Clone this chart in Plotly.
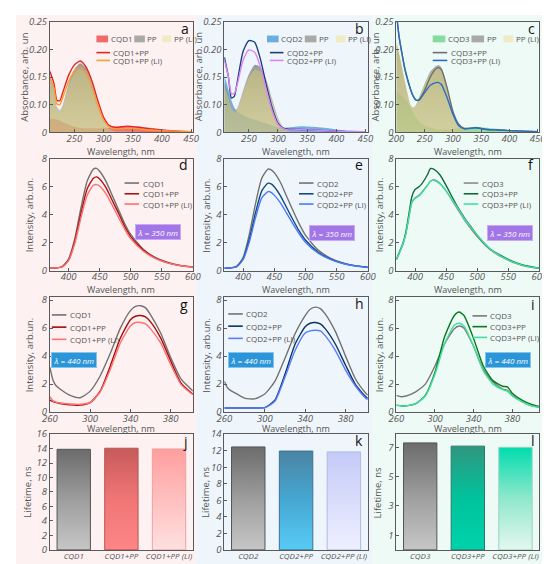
import plotly.graph_objects as go
from plotly.subplots import make_subplots

W, H = 550, 564
FONT = "Open Sans"
TXT = "#555555"

# ---------------- absorption, panels a-c ----------------
AB_WL = [208, 215, 220, 225, 230, 240, 250, 260, 270, 280, 290, 300, 310, 320, 340, 360, 380, 400, 425, 450]
a_cqd1 = [0.075, 0.074, 0.073, 0.071, 0.068, 0.064, 0.060, 0.058, 0.057, 0.057, 0.057, 0.058, 0.058, 0.059, 0.061, 0.060, 0.058, 0.055, 0.053, 0.052]
a_pp = [0.154, 0.128, 0.096, 0.090, 0.100, 0.138, 0.164, 0.175, 0.166, 0.140, 0.104, 0.073, 0.057, 0.052, 0.052, 0.051, 0.050, 0.050, 0.050, 0.050]
a_pp_li = [0.145, 0.122, 0.090, 0.086, 0.095, 0.132, 0.157, 0.165, 0.155, 0.128, 0.094, 0.067, 0.054, 0.051, 0.050, 0.050, 0.050, 0.050, 0.050, 0.050]
a_cqd1_pp = [0.160, 0.138, 0.108, 0.107, 0.122, 0.153, 0.172, 0.179, 0.168, 0.143, 0.108, 0.077, 0.062, 0.059, 0.061, 0.059, 0.056, 0.054, 0.052, 0.051]
a_cqd1_pp_li = [0.150, 0.130, 0.101, 0.100, 0.113, 0.142, 0.161, 0.168, 0.157, 0.132, 0.098, 0.072, 0.059, 0.056, 0.057, 0.056, 0.054, 0.053, 0.052, 0.051]

b_cqd2 = [0.154, 0.127, 0.108, 0.095, 0.088, 0.081, 0.076, 0.073, 0.069, 0.066, 0.062, 0.059, 0.058, 0.059, 0.061, 0.060, 0.058, 0.055, 0.053, 0.052]
b_pp = [0.140, 0.118, 0.098, 0.090, 0.094, 0.125, 0.155, 0.172, 0.168, 0.145, 0.110, 0.077, 0.058, 0.052, 0.051, 0.050, 0.050, 0.050, 0.050, 0.050]
b_pp_li = [0.135, 0.112, 0.094, 0.087, 0.090, 0.120, 0.148, 0.163, 0.160, 0.138, 0.103, 0.072, 0.056, 0.051, 0.050, 0.050, 0.050, 0.050, 0.050, 0.050]
b_cqd2_pp = [0.186, 0.150, 0.112, 0.115, 0.140, 0.196, 0.216, 0.213, 0.182, 0.135, 0.094, 0.066, 0.057, 0.055, 0.055, 0.054, 0.053, 0.052, 0.051, 0.051]
b_cqd2_pp_li = [0.180, 0.150, 0.120, 0.120, 0.136, 0.180, 0.199, 0.195, 0.168, 0.127, 0.089, 0.064, 0.056, 0.054, 0.055, 0.054, 0.053, 0.052, 0.051, 0.051]

C_WL = [200, 205, 210, 215, 220, 225, 230, 235, 240, 250, 260, 270, 275, 280, 290, 300, 310, 320, 340, 360, 380, 400, 425, 450]
c_cqd3 = [0.125, 0.120, 0.115, 0.110, 0.104, 0.095, 0.085, 0.077, 0.070, 0.062, 0.058, 0.056, 0.055, 0.055, 0.055, 0.056, 0.057, 0.058, 0.060, 0.058, 0.056, 0.054, 0.052, 0.051]
c_pp = [0.210, 0.190, 0.165, 0.140, 0.118, 0.100, 0.095, 0.100, 0.113, 0.138, 0.160, 0.170, 0.172, 0.167, 0.133, 0.088, 0.063, 0.054, 0.052, 0.050, 0.050, 0.050, 0.050, 0.050]
c_pp_li = [0.220, 0.195, 0.170, 0.145, 0.120, 0.098, 0.094, 0.100, 0.112, 0.135, 0.155, 0.164, 0.165, 0.160, 0.128, 0.085, 0.062, 0.053, 0.051, 0.050, 0.050, 0.050, 0.050, 0.050]
c_cqd3_pp = [0.265, 0.222, 0.192, 0.165, 0.145, 0.128, 0.115, 0.108, 0.109, 0.126, 0.150, 0.165, 0.167, 0.163, 0.130, 0.088, 0.065, 0.057, 0.058, 0.055, 0.054, 0.053, 0.052, 0.051]
c_cqd3_pp_li = [0.265, 0.222, 0.192, 0.165, 0.145, 0.128, 0.115, 0.108, 0.108, 0.122, 0.135, 0.140, 0.140, 0.136, 0.112, 0.083, 0.062, 0.056, 0.058, 0.055, 0.054, 0.053, 0.052, 0.051]

# ---------------- PL, excitation 350 nm (d-f) ----------------
PL_WL = [370, 380, 390, 400, 410, 420, 430, 440, 445, 450, 460, 470, 480, 490, 500, 520, 540, 560, 580, 600]
d_cqd1 = [0.2, 0.22, 0.32, 0.85, 2.3, 4.5, 6.4, 7.25, 7.3, 7.1, 6.4, 5.4, 4.4, 3.4, 2.6, 1.55, 0.95, 0.6, 0.4, 0.28]
d_cqd1_pp = [0.2, 0.22, 0.3, 0.78, 2.1, 4.1, 5.85, 6.6, 6.7, 6.55, 5.95, 5.05, 4.15, 3.2, 2.45, 1.5, 0.92, 0.58, 0.38, 0.27]
d_cqd1_pp_li = [0.2, 0.22, 0.3, 0.74, 1.95, 3.8, 5.4, 6.1, 6.15, 6.05, 5.5, 4.7, 3.85, 3.0, 2.3, 1.42, 0.88, 0.56, 0.37, 0.26]
e_cqd2 = [0.2, 0.22, 0.35, 0.95, 2.6, 4.8, 6.6, 7.25, 7.2, 7.0, 6.3, 5.3, 4.3, 3.35, 2.55, 1.5, 0.92, 0.58, 0.38, 0.27]
e_cqd2_pp = [0.2, 0.22, 0.32, 0.85, 2.25, 4.15, 5.7, 6.25, 6.2, 6.0, 5.35, 4.5, 3.65, 2.85, 2.2, 1.35, 0.85, 0.55, 0.36, 0.26]
e_cqd2_pp_li = [0.2, 0.22, 0.3, 0.8, 2.05, 3.8, 5.2, 5.65, 5.6, 5.4, 4.85, 4.1, 3.35, 2.65, 2.05, 1.28, 0.82, 0.53, 0.35, 0.25]
F_WL = [370, 380, 385, 390, 395, 400, 405, 410, 420, 425, 430, 440, 450, 460, 470, 480, 490, 500, 520, 540, 560, 580, 600]
f_cqd3 = [0.82, 1.85, 2.6, 3.8, 4.9, 5.2, 5.35, 5.55, 6.1, 6.4, 6.5, 6.25, 5.7, 5.0, 4.3, 3.6, 3.0, 2.45, 1.55, 0.98, 0.58, 0.32, 0.2]
f_cqd3_pp = [0.82, 1.9, 2.7, 4.0, 5.3, 5.8, 5.95, 6.15, 6.85, 7.3, 7.25, 6.85, 6.1, 5.25, 4.45, 3.75, 3.15, 2.55, 1.6, 1.05, 0.62, 0.35, 0.2]
f_cqd3_pp_li = [0.82, 1.85, 2.6, 3.8, 4.9, 5.15, 5.3, 5.5, 6.1, 6.4, 6.45, 6.2, 5.7, 5.05, 4.4, 3.7, 3.1, 2.55, 1.6, 1.0, 0.6, 0.33, 0.2]

# ---------------- PL, excitation 440 nm (g-i) ----------------
G_WL = [260, 263, 266, 270, 280, 290, 300, 310, 320, 330, 340, 345, 350, 355, 360, 370, 380, 390, 400, 402]
g_cqd1 = [3.2, 2.3, 1.9, 1.65, 1.2, 1.03, 1.5, 2.6, 4.2, 6.0, 7.25, 7.55, 7.6, 7.45, 6.95, 5.65, 3.9, 2.4, 1.65, 1.5]
g_cqd1_pp = [0.85, 0.75, 0.7, 0.62, 0.52, 0.5, 0.68, 1.5, 3.3, 5.3, 6.6, 6.85, 6.9, 6.8, 6.45, 5.3, 3.65, 2.1, 1.4, 1.3]
g_cqd1_pp_li = [1.1, 0.8, 0.72, 0.65, 0.58, 0.56, 0.7, 1.45, 3.05, 4.95, 6.15, 6.4, 6.4, 6.3, 5.95, 4.95, 3.4, 2.0, 1.35, 1.25]
h_cqd2 = [2.2, 1.75, 1.55, 1.4, 1.0, 0.95, 1.3, 2.2, 3.85, 5.6, 6.9, 7.35, 7.5, 7.4, 7.0, 5.75, 4.0, 2.35, 1.35, 1.2]
h_cqd2_pp = [0.3, 0.3, 0.3, 0.3, 0.3, 0.3, 0.32, 0.85, 2.7, 4.85, 6.1, 6.35, 6.4, 6.3, 5.95, 4.85, 3.35, 1.95, 1.1, 1.0]
h_cqd2_pp_li = [0.3, 0.3, 0.3, 0.3, 0.3, 0.3, 0.31, 0.78, 2.5, 4.4, 5.65, 5.8, 5.85, 5.8, 5.45, 4.4, 3.0, 1.85, 1.0, 0.9]
I_WL = [260, 265, 270, 280, 290, 300, 310, 320, 325, 330, 340, 350, 360, 370, 375, 380, 390, 400, 408]
i_cqd3 = [1.2, 1.1, 1.15, 1.45, 2.0, 3.3, 4.9, 5.95, 6.15, 6.0, 4.7, 3.05, 2.15, 1.65, 1.55, 1.2, 0.75, 0.45, 0.35]
i_cqd3_pp = [0.5, 0.45, 0.45, 0.6, 1.2, 2.85, 5.4, 6.9, 7.15, 6.9, 5.25, 3.3, 2.25, 1.85, 1.8, 1.35, 0.85, 0.55, 0.4]
i_cqd3_pp_li = [0.5, 0.45, 0.45, 0.6, 1.15, 2.7, 4.9, 6.2, 6.35, 6.15, 4.7, 2.95, 2.0, 1.6, 1.5, 1.15, 0.75, 0.45, 0.35]

# ---------------- lifetimes (j-l) ----------------
J_NAMES = ["CQD1", "CQD1+PP", "CQD1+PP (LI)"]
K_NAMES = ["CQD2", "CQD2+PP", "CQD2+PP (LI)"]
L_NAMES = ["CQD3", "CQD3+PP", "CQD3+PP (LI)"]
j_tau = [13.9, 14.05, 13.95]
k_tau = [12.45, 11.95, 11.85]
l_tau = [7.3, 7.08, 7.0]

GRAY_BAR = [[0, "#c6c6c6"], [0.45, "#a2a2a2"], [1, "#6c6c6c"]]
BAR_SCALES = [
    [GRAY_BAR, [[0, "#ff8686"], [0.5, "#f07676"], [1, "#c85a5a"]], [[0, "#ffe0e0"], [1, "#ff9e9e"]]],
    [GRAY_BAR, [[0, "#58cbf7"], [0.5, "#46a8d2"], [1, "#4a84a4"]], [[0, "#eef0ff"], [1, "#c4caf7"]]],
    [GRAY_BAR, [[0, "#00d2aa"], [0.5, "#00c39c"], [1, "#30967f"]], [[0, "#e6f7f0"], [0.5, "#90e8cc"], [1, "#00dcae"]]],
]
BAR_EDGES = [["#555555", "#b45656", "#eaa2a2"], ["#555555", "#3c7292", "#b0b8e6"], ["#555555", "#2a7a6a", "#8fd8c0"]]
BAR_W = 0.7

# domains in pixels
COL_X = [(35, 182.5), (215, 363), (392.5, 540)]
ROW_Y = [(7, 120), (147, 262), (289, 406.5), (429, 547.5)]


def px(x):
    return x / W


def py(y):
    return 1 - y / H


fig = make_subplots(rows=4, cols=3)

for r in range(4):
    for c in range(3):
        n = r * 3 + c + 1
        sfx = "" if n == 1 else str(n)
        fig.layout["xaxis" + sfx].domain = [px(COL_X[c][0]), px(COL_X[c][1])]
        fig.layout["yaxis" + sfx].domain = [py(ROW_Y[r][1]), py(ROW_Y[r][0])]

GRAY_FILL = dict(type="vertical", colorscale=[[0, "rgba(215,215,215,0.5)"], [1, "rgba(105,105,105,0.65)"]])
BEIGE = "rgba(210,198,112,0.55)"


def add_abs(col, wl, cqd, pp, ppli, l1, l2, cqd_col, c1, c2):
    fig.add_trace(go.Scatter(x=wl, y=cqd, mode="lines", line=dict(width=0, shape="spline", smoothing=0.6),
                             fill="tozeroy", fillcolor=cqd_col), row=1, col=col)
    fig.add_trace(go.Scatter(x=wl, y=pp, mode="lines", line=dict(width=0, shape="spline", smoothing=0.6),
                             fill="tozeroy", fillgradient=GRAY_FILL), row=1, col=col)
    fig.add_trace(go.Scatter(x=wl, y=ppli, mode="lines", line=dict(width=0, shape="spline", smoothing=0.6),
                             fill="tozeroy", fillcolor=BEIGE), row=1, col=col)
    for ys, cc in [(l1, c1), (l2, c2)]:
        fig.add_trace(go.Scatter(x=wl, y=ys, mode="lines",
                                 line=dict(color=cc, width=1.4, shape="spline", smoothing=0.6)), row=1, col=col)


add_abs(1, AB_WL, a_cqd1, a_pp, a_pp_li, a_cqd1_pp, a_cqd1_pp_li, "rgba(236,62,62,0.72)", "#e62222", "#f5a033")
add_abs(2, AB_WL, b_cqd2, b_pp, b_pp_li, b_cqd2_pp, b_cqd2_pp_li, "rgba(66,148,214,0.72)", "#1c3f7c", "#dc84f6")
add_abs(3, C_WL, c_cqd3, c_pp, c_pp_li, c_cqd3_pp, c_cqd3_pp_li, "rgba(88,204,118,0.62)", "#6e6e6e", "#2a6cc0")

PL_SETS = [
    (2, 1, PL_WL, [d_cqd1, d_cqd1_pp, d_cqd1_pp_li], ["#717171", "#b01212", "#ff7070"]),
    (2, 2, PL_WL, [e_cqd2, e_cqd2_pp, e_cqd2_pp_li], ["#717171", "#0f4a7c", "#4a78ff"]),
    (2, 3, F_WL, [f_cqd3, f_cqd3_pp, f_cqd3_pp_li], ["#8c8c8c", "#0d6b3c", "#3fe0a2"]),
    (3, 1, G_WL, [g_cqd1, g_cqd1_pp, g_cqd1_pp_li], ["#717171", "#a80a0a", "#ff7070"]),
    (3, 2, G_WL, [h_cqd2, h_cqd2_pp, h_cqd2_pp_li], ["#717171", "#0b3364", "#5a7cff"]),
    (3, 3, I_WL, [i_cqd3, i_cqd3_pp, i_cqd3_pp_li], ["#777777", "#0b7a1e", "#3fe0a2"]),
]
for r, c, wl, series, cols in PL_SETS:
    for ys, cc in zip(series, cols):
        fig.add_trace(go.Scatter(x=wl, y=ys, mode="lines",
                                 line=dict(color=cc, width=1.4, shape="spline", smoothing=0.6)), row=r, col=c)

for c, taus in enumerate([j_tau, k_tau, l_tau]):
    for i, v in enumerate(taus):
        xs = [i - BAR_W / 2, i + BAR_W / 2, i + BAR_W / 2, i - BAR_W / 2, i - BAR_W / 2]
        ys = [0, 0, v, v, 0]
        fig.add_trace(go.Scatter(x=xs, y=ys, mode="lines", fill="toself",
                                 line=dict(color=BAR_EDGES[c][i], width=1),
                                 fillgradient=dict(type="vertical", colorscale=BAR_SCALES[c][i])),
                      row=4, col=c + 1)

# axes
axis_style = dict(showline=True, mirror=True, linecolor="#5a5a5a", linewidth=1, ticks="inside", ticklen=3,
                  tickcolor="#5a5a5a", showgrid=False, zeroline=False,
                  tickfont=dict(family=FONT, size=9.5, color=TXT, style="italic"))
fig.update_xaxes(ticklabelstandoff=-3, **axis_style)
fig.update_yaxes(**axis_style)

for c in range(3):
    fig.update_yaxes(range=[0.05, 0.25], tickvals=[0.05, 0.10, 0.15, 0.20, 0.25],
                     ticktext=["0", "0.10", "0.15", "0.20", "0.25"], row=1, col=c + 1)
    fig.update_xaxes(range=[370, 600], tickvals=[400, 450, 500, 550, 600], row=2, col=c + 1)
    fig.update_yaxes(range=[0, 8], tickvals=[0, 2, 4, 6, 8], row=2, col=c + 1)
    fig.update_yaxes(range=[0, 8.2], tickvals=[0, 2, 4, 6, 8], row=3, col=c + 1)
fig.update_xaxes(range=[208, 453], tickvals=[250, 300, 350, 400, 450], row=1, col=1)
fig.update_xaxes(range=[208, 454], tickvals=[250, 300, 350, 400, 450], row=1, col=2)
fig.update_xaxes(range=[200, 453], tickvals=[200, 250, 300, 350, 400, 450], row=1, col=3)
fig.update_xaxes(range=[260, 402], tickvals=[260, 300, 340, 380], row=3, col=1)
fig.update_xaxes(range=[260, 402], tickvals=[260, 300, 340, 380], row=3, col=2)
fig.update_xaxes(range=[260, 408], tickvals=[260, 300, 340, 380], row=3, col=3)
for c, names in enumerate([J_NAMES, K_NAMES, L_NAMES]):
    fig.update_xaxes(range=[-0.5, 2.5], tickvals=[0, 1, 2], ticktext=names, ticks="", tickangle=0,
                     ticklabelstandoff=-1, tickfont=dict(size=8), row=4, col=c + 1)
fig.update_yaxes(range=[0, 16], dtick=2, row=4, col=1)
fig.update_yaxes(range=[0, 14], dtick=2, row=4, col=2)
fig.update_yaxes(range=[0, 7.9], tickvals=[1, 3, 5, 7], row=4, col=3)

annotations = []
shapes = []


def note(text, x, y, size=9, xanchor="center", **kw):
    d = dict(text=text, x=px(x), y=py(y), xref="paper", yref="paper", xanchor=xanchor, yanchor="middle",
             showarrow=False, font=kw.pop("font", dict(family=FONT, size=size, color=TXT)))
    d.update(kw)
    annotations.append(d)


# column tints
for x0, x1, col in [(0, 186, "#fdf1f1"), (186, 369, "#eff6fb"), (369, 550, "#eefaf5")]:
    shapes.append(dict(type="rect", xref="paper", yref="paper", x0=px(x0), x1=px(x1), y0=0, y1=1,
                       fillcolor=col, line_width=0, layer="below"))

# panel letters
LETTERS = [("a", 181, 14), ("b", 361, 14), ("c", 538, 14), ("d", 180, 153), ("e", 360, 153), ("f", 537, 153),
           ("g", 180, 296), ("h", 361, 295), ("i", 538, 296), ("j", 180, 437), ("k", 360, 436), ("l", 538, 436)]
for t, x, y in LETTERS:
    note(t, x, y, xanchor="right", font=dict(family=FONT, size=14, color="#111111"))

# axis titles
YTITLES = ["Absorbance, arb. un", "Intensity, arb.un.", "Intensity, arb.un.", "Lifetime, ns"]
YT_X = [(8, 188, 371), (14, 197, 375), (14, 197, 375), (12, 196, 374)]
for r in range(4):
    for c in range(3):
        note(YTITLES[r], YT_X[r][c], sum(ROW_Y[r]) / 2, size=9.5, textangle=-90)
for r, yy in enumerate([139.5, 280.5, 423.5]):
    for c in range(3):
        note("Wavelength, nm", sum(COL_X[c]) / 2, yy, size=9)

# excitation labels
for text, x, y, bg, bd in [("λ = 350 nm", 147, 222, "#a276e6", "#caa8f5"), ("λ = 350 nm", 326, 223, "#a276e6", "#caa8f5"),
                           ("λ = 350 nm", 510, 223, "#a276e6", "#caa8f5"), ("λ = 440 nm", 60, 353, "#2b95d8", "#80c6f0"),
                           ("λ = 440 nm", 242, 353, "#2b95d8", "#80c6f0"), ("λ = 440 nm", 508, 353, "#2b95d8", "#80c6f0")]:
    note(text, x, y, bgcolor=bg, bordercolor=bd, borderwidth=1, borderpad=1.5,
         font=dict(family=FONT, size=8, color="white", style="italic"))


def line_legend(x0, ys, names, colors, seg=15):
    for y, name, cc in zip(ys, names, colors):
        shapes.append(dict(type="line", xref="paper", yref="paper", x0=px(x0), x1=px(x0 + seg), y0=py(y), y1=py(y),
                           line=dict(color=cc, width=1.6)))
        note(name, x0 + seg + 1.5, y, size=8, xanchor="left")


def fill_legend(items, y):
    for x0, x1, name, cc in items:
        shapes.append(dict(type="rect", xref="paper", yref="paper", x0=px(x0), x1=px(x1), y0=py(y + 3.5), y1=py(y - 3.5),
                           fillcolor=cc, line_width=0))
        note(name, x1 + 0.5, y, size=8, xanchor="left")


PP_SW = "#a9a9a9"
PPLI_SW = "#f1ebc4"
fill_legend([(83, 95, "CQD1", "#f06a6a"), (122, 133, "PP", PP_SW), (151, 160, "PP (LI)", PPLI_SW)], 24.5)
line_legend(83, [38.5, 46.5], ["CQD1+PP", "CQD1+PP (LI)"], ["#e62222", "#f5a033"], seg=14)
fill_legend([(259, 271, "CQD2", "#6aaee0"), (298, 310, "PP", PP_SW), (330, 340, "PP (LI)", PPLI_SW)], 24.5)
line_legend(262, [38.5, 46.5], ["CQD2+PP", "CQD2+PP (LI)"], ["#1c3f7c", "#dc84f6"], seg=14)
fill_legend([(430, 443, "CQD3", "#86dca0"), (470, 483, "PP", PP_SW), (503, 513, "PP (LI)", PPLI_SW)], 24.5)
line_legend(430, [38.5, 46.5], ["CQD3+PP", "CQD3+PP (LI)"], ["#6e6e6e", "#2a6cc0"], seg=15)

for (r, c, wl, series, cols), x0, ys, names in zip(
        PL_SETS,
        [112, 292, 462, 37, 219, 471],
        [[172, 183, 193.5]] * 3 + [[307, 319.5, 332], [306, 318.5, 331], [308, 319, 330]],
        [J_NAMES, K_NAMES, L_NAMES, J_NAMES, K_NAMES, L_NAMES]):
    line_legend(x0, ys, names, cols)

fig.update_layout(width=W, height=H, margin=dict(l=0, r=0, t=0, b=0), showlegend=False,
                  paper_bgcolor="white", plot_bgcolor="rgba(255,255,255,0.55)",
                  font=dict(family=FONT, color=TXT), annotations=annotations, shapes=shapes)

fig.write_html("out.html")
